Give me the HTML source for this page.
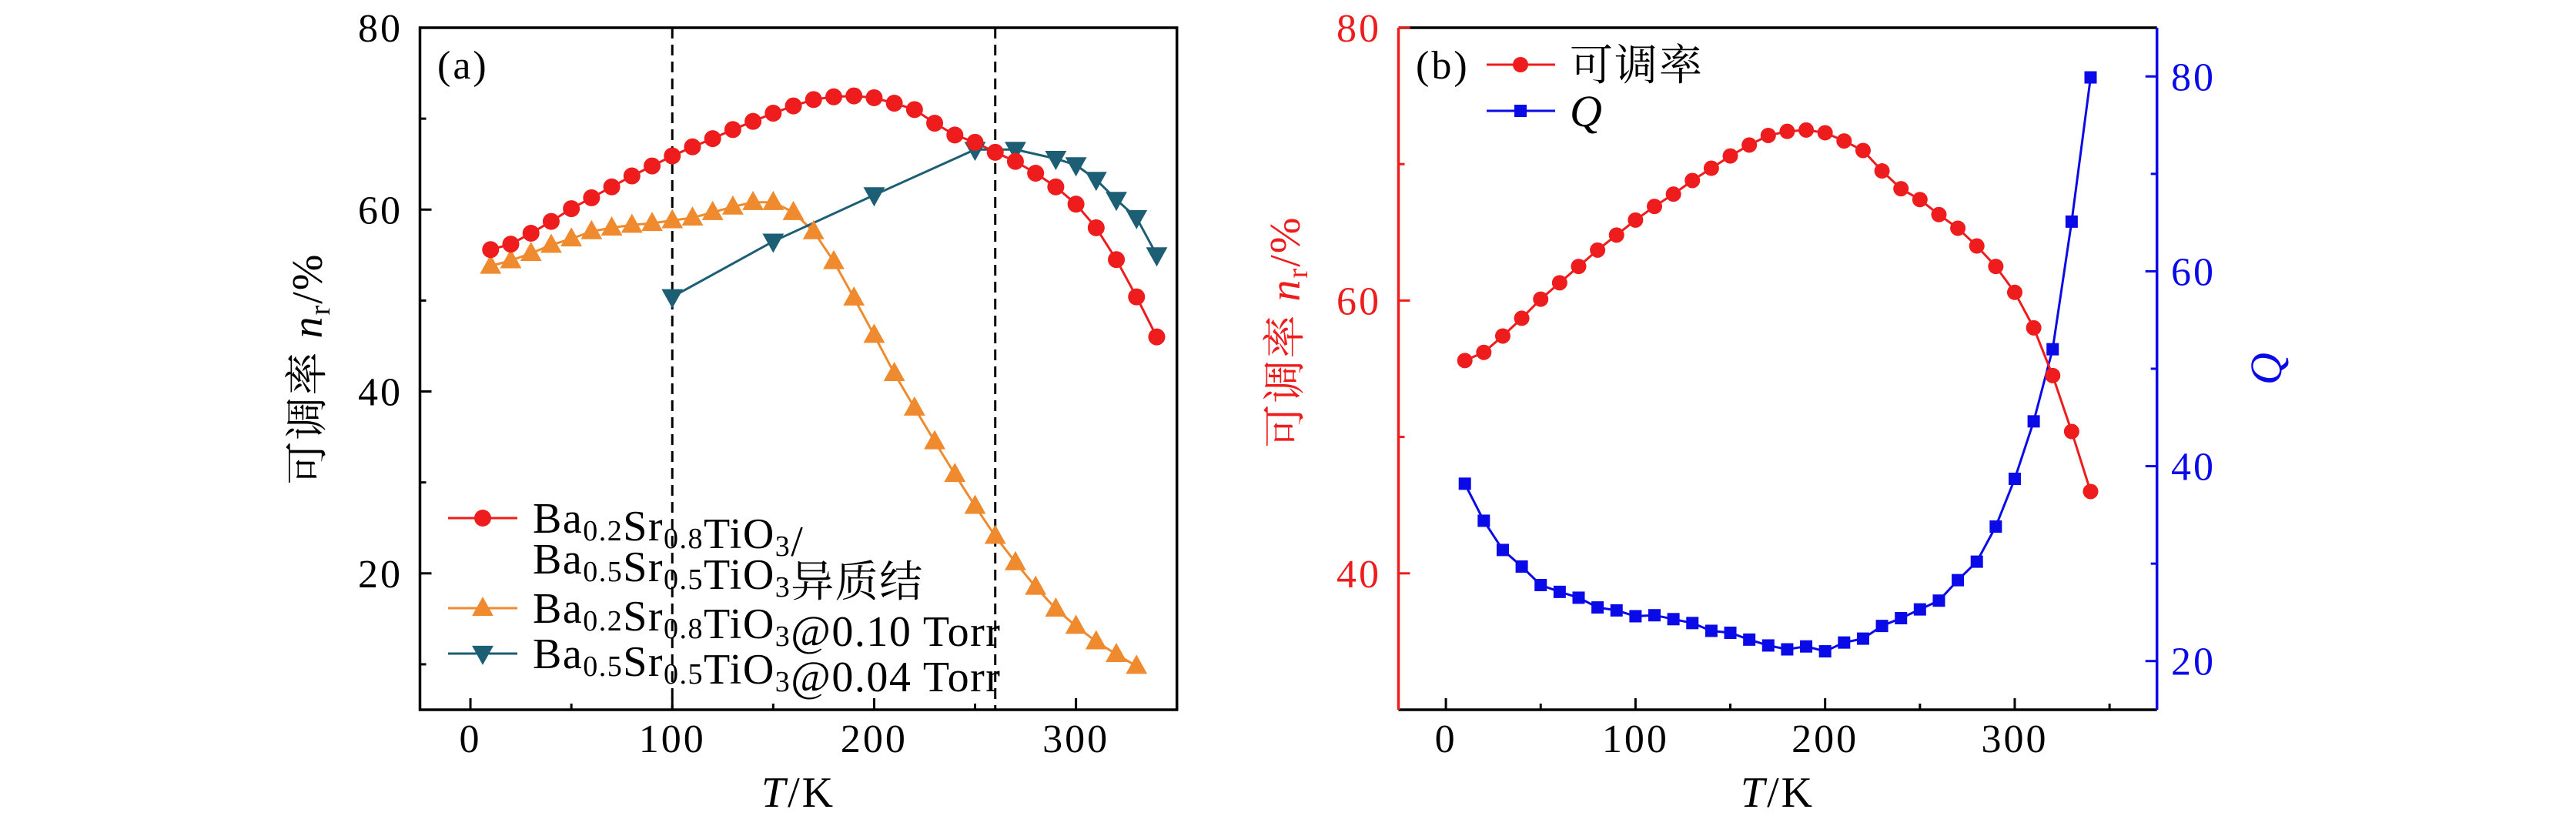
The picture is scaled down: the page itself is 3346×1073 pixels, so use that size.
<!DOCTYPE html>
<html><head><meta charset="utf-8">
<style>
html,body{margin:0;padding:0;background:#fff;}
svg{display:block;font-family:"Liberation Serif","Noto Serif CJK SC",serif;}
</style></head>
<body>
<svg id="fig" width="3346" height="1073" viewBox="0 0 3346 1073" xmlns="http://www.w3.org/2000/svg"></svg>
<script>
// ---- data ----
const tempsHetero = [10,20,30,40,50,60,70,80,90,100,110,120,130,140,150,160,170,180,190,200,210,220,230,240,250,260,270,280,290,300,310,320,330,340];
const tunHetero = [55.6,56.2,57.4,58.7,60.1,61.3,62.5,63.7,64.8,65.9,66.9,67.8,68.8,69.7,70.6,71.4,72.1,72.4,72.5,72.3,71.7,71.0,69.5,68.2,67.4,66.3,65.3,64.0,62.5,60.6,58.0,54.5,50.4,46.0];
const temps010 = [10,20,30,40,50,60,70,80,90,100,110,120,130,140,150,160,170,180,190,200,210,220,230,240,250,260,270,280,290,300,310,320,330];
const tun010 = [53.8,54.4,55.2,56.1,56.8,57.6,58.0,58.3,58.5,58.8,59.1,59.7,60.3,60.8,60.8,59.7,57.6,54.3,50.3,46.2,42.0,38.2,34.5,30.9,27.4,24.1,21.2,18.5,16.1,14.2,12.5,11.1,9.8];
const temps004 = [100,150,200,250,270,290,300,310,320,330,340];
const tun004 = [50.4,56.5,61.6,66.6,66.6,65.6,64.9,63.3,61.1,59.1,55.0];
const qValues = [38.2,34.4,31.4,29.7,27.8,27.1,26.5,25.5,25.2,24.6,24.7,24.3,23.9,23.1,22.9,22.2,21.6,21.2,21.5,21.0,21.9,22.3,23.6,24.4,25.3,26.2,28.3,30.2,33.8,38.7,44.6,52.0,65.1,79.9];
const dashedTemps = [100,260];
const xTicksA = [0,100,200,300];
const yTicksA = [20,40,60,80];
const xTicksB = [0,100,200,300];
const yTicksBL = [40,60,80];
const yTicksBR = [20,40,60,80];

const NS="http://www.w3.org/2000/svg";
const svg=document.getElementById('fig');
function mk(tag,attrs,parent){const e=document.createElementNS(NS,tag);for(const k in attrs)e.setAttribute(k,attrs[k]);(parent||svg).appendChild(e);return e;}

const RED="#ee1c1c", ORANGE="#ef8a2f", TEAL="#1c5f75", BLUE="#0a0ae8";
const TF=52, TLS=3;

const A={l:545.5,r:1528.7,t:36,b:922,x0:-25,x1:350,y0:5,y1:80};
const B={l:1816.5,r:2801.7,t:36,b:922,x0:-25,x1:375,y0:30,y1:80,q0:15,q1:85};
const ax=v=>A.l+(v-A.x0)/(A.x1-A.x0)*(A.r-A.l);
const ay=v=>A.b-(v-A.y0)/(A.y1-A.y0)*(A.b-A.t);
const bx=v=>B.l+(v-B.x0)/(B.x1-B.x0)*(B.r-B.l);
const by=v=>B.b-(v-B.y0)/(B.y1-B.y0)*(B.b-B.t);
const bq=v=>B.b-(v-B.q0)/(B.q1-B.q0)*(B.b-B.t);

function pathOf(xs,ys,fx,fy){return xs.map((x,i)=>(i?'L':'M')+fx(x).toFixed(1)+','+fy(ys[i]).toFixed(1)).join(' ');}
function circle(g,cx,cy,r,c){const e=mk('circle',{cx,cy,r,fill:c},g);return e;}
function triUp(g,cx,cy,s,c){const e=mk('polygon',{points:`${cx},${cy-s*0.62} ${cx-s*0.58},${cy+s*0.42} ${cx+s*0.58},${cy+s*0.42}`,fill:c},g);return e;}
function triDown(g,cx,cy,s,c){const e=mk('polygon',{points:`${cx},${cy+s*0.62} ${cx-s*0.58},${cy-s*0.42} ${cx+s*0.58},${cy-s*0.42}`,fill:c},g);return e;}
function square(g,cx,cy,s,c){const e=mk('rect',{x:cx-s/2,y:cy-s/2,width:s,height:s,fill:c},g);return e;}
function text(g,x,y,str,attrs){const e=mk('text',Object.assign({x,y,'font-size':TF,'letter-spacing':TLS},attrs||{}),g);e.textContent=str;return e;}

// ---- Panel A ----
const gA=mk('g',{});



dashedTemps.forEach(t=>{
  const l=mk('line',{x1:ax(t),x2:ax(t),y1:A.t,y2:A.b,stroke:'#000','stroke-width':3,'stroke-dasharray':'14,8'},gA);
  
  
});

const lO=mk('path',{d:pathOf(temps010,tun010,ax,ay),fill:'none',stroke:ORANGE,'stroke-width':3},gA);


const lT=mk('path',{d:pathOf(temps004,tun004,ax,ay),fill:'none',stroke:TEAL,'stroke-width':3},gA);


const lR=mk('path',{d:pathOf(tempsHetero,tunHetero,ax,ay),fill:'none',stroke:RED,'stroke-width':3},gA);


temps010.forEach((t,i)=>triUp(gA,ax(t),ay(tun010[i]),24,ORANGE));
temps004.forEach((t,i)=>triDown(gA,ax(t),ay(tun004[i]),24,TEAL));
tempsHetero.forEach((t,i)=>circle(gA,ax(t),ay(tunHetero[i]),11,RED));

const fA=mk('rect',{x:A.l,y:A.t,width:A.r-A.l,height:A.b-A.t,fill:'none',stroke:'#000','stroke-width':3.5},gA);



for(let v=0;v<=350;v+=50){
  const major=v%100===0;
  const t=mk('line',{x1:ax(v),x2:ax(v),y1:A.b,y2:A.b-(major?15:8),stroke:'#000','stroke-width':3},gA);
  
  
}
xTicksA.forEach(v=>{const e=text(gA,ax(v),977,String(v),{'text-anchor':'middle'});});
for(let v=10;v<=80;v+=10){
  const major=v%20===0;
  const t=mk('line',{x1:A.l,x2:A.l+(major?15:8),y1:ay(v),y2:ay(v),stroke:'#000','stroke-width':3},gA);
  
  
}
yTicksA.forEach(v=>{const e=text(gA,523,ay(v)+18,String(v),{'text-anchor':'end'});});

const xtA=mk('text',{x:1037,y:1048,'font-size':56,'letter-spacing':3,'text-anchor':'middle'},gA);
xtA.innerHTML='<tspan font-style="italic">T</tspan>/K';


const ytA=mk('text',{x:0,y:0,'font-size':56,'letter-spacing':2,'text-anchor':'middle',transform:'translate(418,479) rotate(-90)'},gA);
ytA.innerHTML='可调率 <tspan font-style="italic">n</tspan><tspan font-size="38" dy="10">r</tspan><tspan dy="-10">/%</tspan>';


const la=text(gA,568,102,'(a)');



const legA=mk('g',{},gA);


function legLine(g,y,c){const l=mk('line',{x1:582,x2:672,y1:y,y2:y,stroke:c,'stroke-width':3},g);}
function sub(s){return `<tspan font-size="38" dy="10">${s}</tspan><tspan dy="-10"></tspan>`;}
const LF=56, LLS=1.5;
legLine(legA,673,RED);circle(legA,627,673,11,RED);
let t1=mk('text',{x:692,y:692,'font-size':LF,'letter-spacing':LLS},legA);
t1.innerHTML='Ba'+sub('0.2')+'Sr'+sub('0.8')+'TiO'+sub('3')+'/';


let t2=mk('text',{x:692,y:745,'font-size':LF,'letter-spacing':LLS},legA);
t2.innerHTML='Ba'+sub('0.5')+'Sr'+sub('0.5')+'TiO'+sub('3')+'异质结';


legLine(legA,790,ORANGE);triUp(legA,627,790,24,ORANGE);
let t3=mk('text',{x:692,y:809,'font-size':LF,'letter-spacing':LLS},legA);
t3.innerHTML='Ba'+sub('0.2')+'Sr'+sub('0.8')+'TiO'+sub('3')+'@0.10 Torr';


legLine(legA,849,TEAL);triDown(legA,627,849,24,TEAL);
let t4=mk('text',{x:692,y:868,'font-size':LF,'letter-spacing':LLS},legA);
t4.innerHTML='Ba'+sub('0.5')+'Sr'+sub('0.5')+'TiO'+sub('3')+'@0.04 Torr';



// ---- Panel B ----
const gB=mk('g',{});


const lQ=mk('path',{d:pathOf(tempsHetero,qValues,bx,bq),fill:'none',stroke:BLUE,'stroke-width':3},gB);


const lRb=mk('path',{d:pathOf(tempsHetero,tunHetero,bx,by),fill:'none',stroke:RED,'stroke-width':3},gB);


tempsHetero.forEach((t,i)=>square(gB,bx(t),bq(qValues[i]),16,BLUE));
tempsHetero.forEach((t,i)=>circle(gB,bx(t),by(tunHetero[i]),10,RED));

const ab=mk('line',{x1:B.l,x2:B.r,y1:B.b,y2:B.b,stroke:'#000','stroke-width':3.5},gB);
const at=mk('line',{x1:B.l,x2:B.r,y1:B.t,y2:B.t,stroke:'#000','stroke-width':3.5},gB);
const al=mk('line',{x1:B.l,x2:B.l,y1:B.t,y2:B.b,stroke:RED,'stroke-width':3.5},gB);
const ar=mk('line',{x1:B.r,x2:B.r,y1:B.t,y2:B.b,stroke:BLUE,'stroke-width':3.5},gB);

for(let v=0;v<=350;v+=50){
  const major=v%100===0;
  const t=mk('line',{x1:bx(v),x2:bx(v),y1:B.b,y2:B.b-(major?15:8),stroke:'#000','stroke-width':3},gB);
  
  
}
xTicksB.forEach(v=>{const e=text(gB,bx(v),977,String(v),{'text-anchor':'middle'});});
for(let v=40;v<=80;v+=10){
  const major=v%20===0;
  const t=mk('line',{x1:B.l,x2:B.l+(major?15:8),y1:by(v),y2:by(v),stroke:RED,'stroke-width':3},gB);
  
  
}
yTicksBL.forEach(v=>{const e=text(gB,1794,by(v)+18,String(v),{'text-anchor':'end',fill:RED});});
for(let v=20;v<=80;v+=10){
  const major=v%20===0;
  const t=mk('line',{x1:B.r,x2:B.r-(major?15:8),y1:bq(v),y2:bq(v),stroke:BLUE,'stroke-width':3},gB);
  
  
}
yTicksBR.forEach(v=>{const e=text(gB,2820,bq(v)+18,String(v),{fill:BLUE});});

const xtB=mk('text',{x:2309,y:1048,'font-size':56,'letter-spacing':3,'text-anchor':'middle'},gB);
xtB.innerHTML='<tspan font-style="italic">T</tspan>/K';


const ytB=mk('text',{x:0,y:0,'font-size':56,'letter-spacing':2,'text-anchor':'middle',fill:RED,transform:'translate(1688,431) rotate(-90)'},gB);
ytB.innerHTML='可调率 <tspan font-style="italic">n</tspan><tspan font-size="38" dy="10">r</tspan><tspan dy="-10">/%</tspan>';


const qt=mk('text',{x:0,y:0,'font-size':58,'text-anchor':'middle',fill:BLUE,'font-style':'italic',transform:'translate(2963,479) rotate(-90)'},gB);
qt.textContent='Q';


const lb=text(gB,1839,102,'(b)');



const legB=mk('g',{},gB);


let lb1=mk('line',{x1:1931,x2:2020,y1:84,y2:84,stroke:RED,'stroke-width':3},legB);


circle(legB,1975,84,10,RED);
let lt1=mk('text',{x:2039,y:104,'font-size':56,'letter-spacing':2},legB);lt1.textContent='可调率';


let lb2=mk('line',{x1:1931,x2:2020,y1:144,y2:144,stroke:BLUE,'stroke-width':3},legB);


square(legB,1975,144,16,BLUE);
let lt2=mk('text',{x:2039,y:164,'font-size':58,'font-style':'italic'},legB);lt2.textContent='Q';


</script>
</body></html>
